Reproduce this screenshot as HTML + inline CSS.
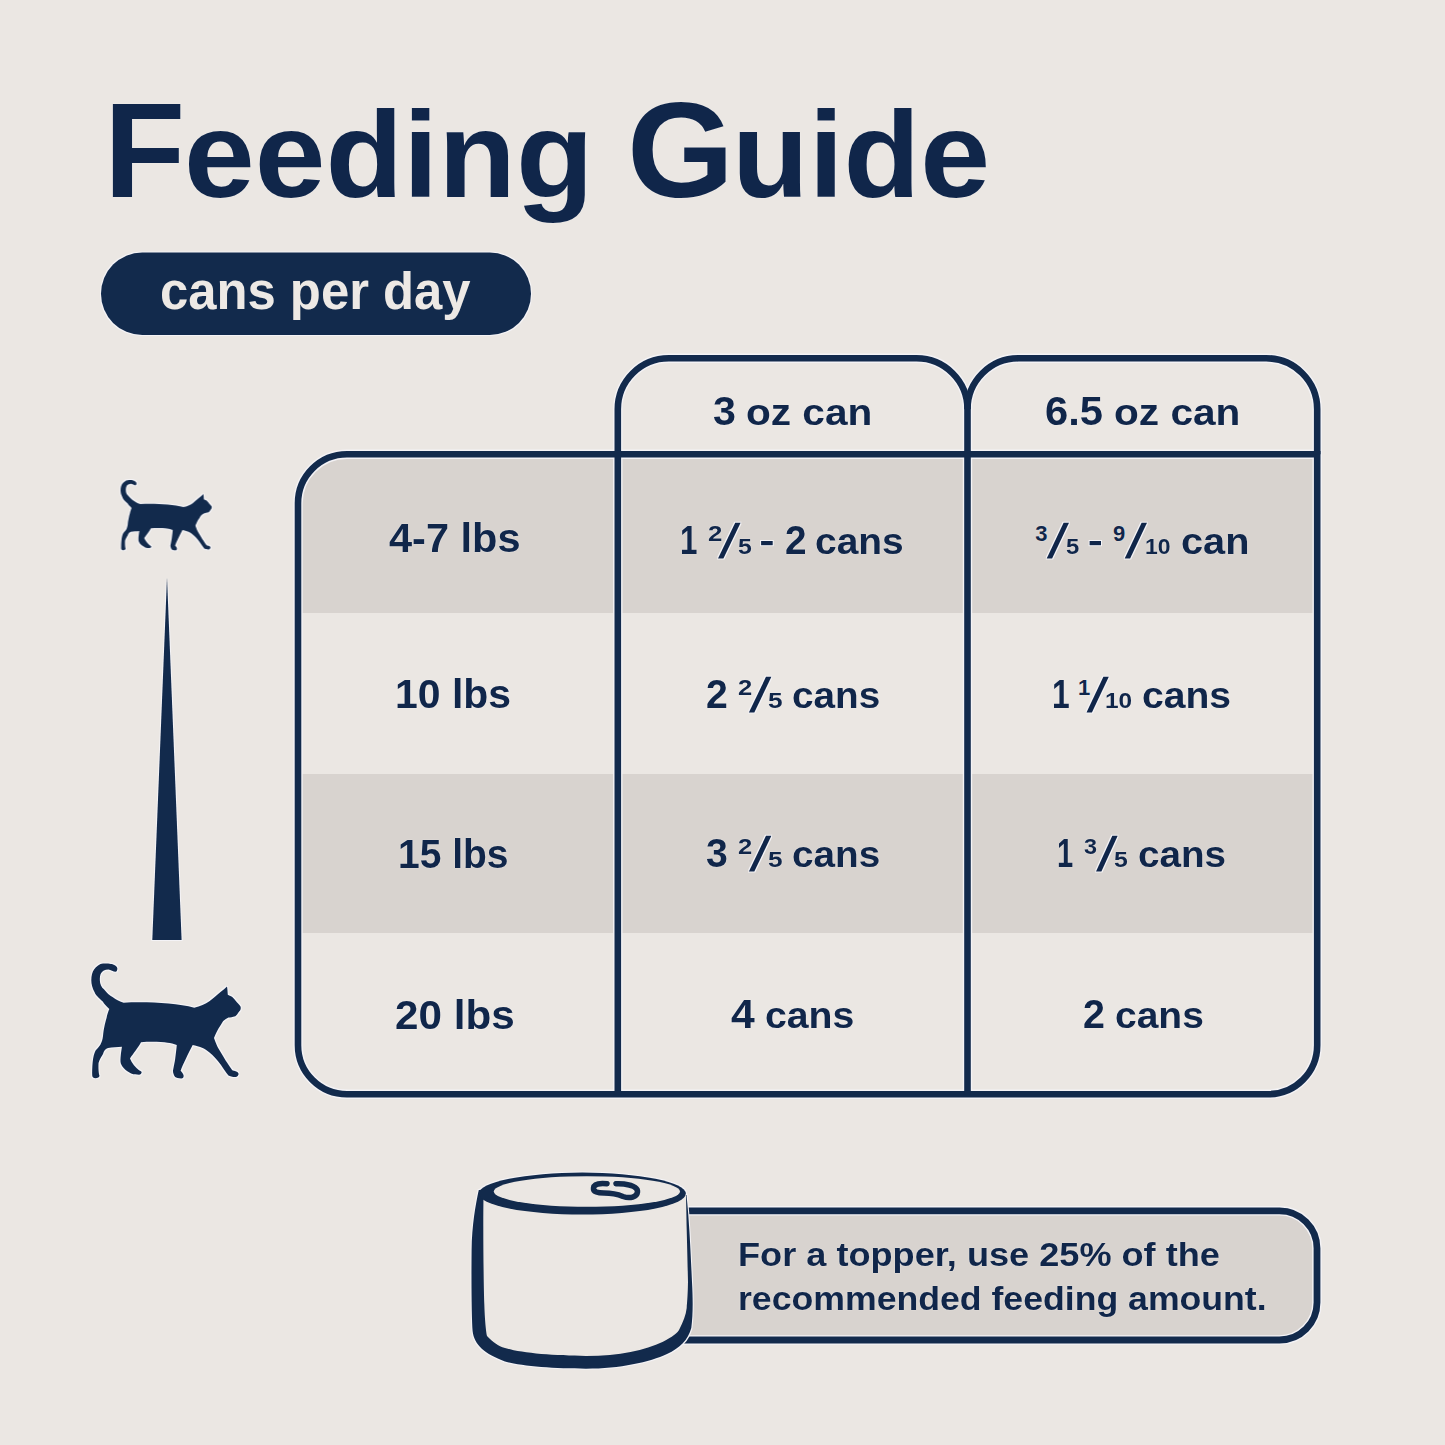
<!DOCTYPE html>
<html><head><meta charset="utf-8">
<style>
html,body{margin:0;padding:0;}
body{width:1445px;height:1445px;background:#EBE7E3;position:relative;overflow:hidden;font-family:"Liberation Sans",sans-serif;font-weight:bold;color:#10264A;}
svg.bg{position:absolute;left:0;top:0;}
.t{position:absolute;white-space:pre;line-height:normal;transform-origin:0 0;text-shadow:0 0 1.2px rgba(248,247,250,0.9);}
</style></head>
<body>
<svg class="bg" width="1445" height="1445" viewBox="0 0 1445 1445">
<!-- table row backgrounds -->
<path d="M298,503 A49,49 0 0 1 347,454.3 L1317.2,454.3 L1317.2,613 L298,613 Z" fill="#D8D3CF"/>
<rect x="298" y="774" width="1019.2" height="159" fill="#D8D3CF"/>
<!-- table outline -->
<defs><filter id="halo" color-interpolation-filters="sRGB" x="-5%" y="-5%" width="110%" height="110%"><feMorphology in="SourceAlpha" operator="dilate" radius="1.4" result="d"/><feFlood flood-color="#F4F3F6"/><feComposite in2="d" operator="in" result="h"/><feMerge><feMergeNode in="h"/><feMergeNode in="SourceGraphic"/></feMerge></filter><g id="tbl" fill="none">
  <path d="M298,503.3 A49,49 0 0 1 347,454.3 L1317.2,454.3 L1317.2,1045.2 A49,49 0 0 1 1268.2,1094.2 L347,1094.2 A49,49 0 0 1 298,1045.2 Z"/>
  <path d="M617.8,1094.2 L617.8,409.3 A51,51 0 0 1 668.8,358.3 L916.5,358.3 A51,51 0 0 1 967.5,409.3 L967.5,1094.2"/>
  <path d="M967.5,409.3 A51,51 0 0 1 1018.5,358.3 L1266.2,358.3 A51,51 0 0 1 1317.2,409.3 L1317.2,454.3"/>
</g></defs>
<use href="#tbl" stroke="#F4F3F6" stroke-width="9.4"/>
<use href="#tbl" stroke="#122A4C" stroke-width="6.6"/>
<!-- wedge -->
<path d="M167,577.4 L181.6,940 L152.3,940 Z" fill="#122A4C" filter="url(#halo)"/>
<!-- pill -->
<rect x="101" y="252.5" width="430" height="82.5" rx="41.25" fill="#122A4C" filter="url(#halo)"/>
<!-- topper box -->
<path d="M640,1210.8 L1279.5,1210.8 A37.5,37.5 0 0 1 1317,1248.3 L1317,1302.5 A37.5,37.5 0 0 1 1279.5,1340 L640,1340 Z" fill="#D8D3CF"/>
<path d="M640,1210.8 L1279.5,1210.8 A37.5,37.5 0 0 1 1317,1248.3 L1317,1302.5 A37.5,37.5 0 0 1 1279.5,1340 L640,1340 Z" fill="none" stroke="#F4F3F6" stroke-width="9.6"/>
<path d="M640,1210.8 L1279.5,1210.8 A37.5,37.5 0 0 1 1317,1248.3 L1317,1302.5 A37.5,37.5 0 0 1 1279.5,1340 L640,1340 Z" fill="none" stroke="#122A4C" stroke-width="6.8"/>
<g filter="url(#halo)">
<!-- can body -->
<path d="M478.8,1190 C475.5,1205 472,1225 471.6,1250 C471.2,1290 471.8,1320 472.6,1331 C474,1345 485,1354 505,1361.5 C520,1366 555,1368.7 586,1368.7 C620,1368.7 650,1362 667,1354 C680,1348 688,1340 691.3,1328 C693,1315 693,1300 692,1282 C691,1260 690,1240 689.3,1229.5 C688.5,1215 687.5,1205 686.5,1195 Z" fill="#122A4C"/>
<path d="M483.5,1195 C483,1230 483.5,1280 484.3,1304 C484.8,1320 486,1332 487,1336 C493,1342 498,1346 505,1348 C520,1353 555,1356 586,1356 C620,1356 645,1350 663,1341.7 C672,1337 678,1333 679.5,1329 C683,1322 686,1315 686.7,1308 C688,1295 688,1282 688,1282 C687.5,1260 687,1240 686.7,1229.5 C686.5,1215 686.2,1205 686,1195 Z" fill="#EBE7E3"/>
<ellipse cx="582.3" cy="1193.6" rx="103.5" ry="21" fill="#122A4C"/>
<ellipse cx="586.9" cy="1191.5" rx="93.1" ry="15.3" fill="#EBE7E3"/>
<!-- pull tab -->
<path d="M607,1183.8 C600,1183 594,1184 593.5,1188 C593,1192 598,1193 604,1193 C612,1193 617,1194 623,1196.5 C630,1199 637,1197 637.5,1192 C638,1187 631,1185 624,1184 C620,1183.6 618,1183.6 616,1183.8" fill="none" stroke="#122A4C" stroke-width="5.5" stroke-linecap="round"/>
</g>
<!-- cats -->
<g fill="#122A4C" filter="url(#halo)">
<g id="cat" transform="translate(70,950) scale(0.1315)">
<path d="M408,401 C560,392 800,400 945,439 C990,430 1030,410 1060,390 C1120,340 1170,300 1194,277 C1198,300 1199,325 1200,341 C1215,348 1228,352 1234,358 C1250,375 1262,390 1269,398 C1285,415 1295,425 1298,433 C1300,450 1295,460 1286,468 C1275,485 1265,498 1257,503 C1235,510 1220,512 1205,514 C1180,525 1165,540 1159,549 C1140,580 1130,595 1124,607 C1110,635 1100,655 1095,670 C1105,700 1120,735 1130,751 C1160,800 1180,835 1194,856 C1210,880 1222,900 1234,914 C1250,920 1262,922 1269,925 C1282,932 1285,945 1280,948 C1275,962 1265,966 1257,966 C1235,965 1215,960 1205,954 C1185,930 1165,900 1147,873 C1120,835 1090,805 1061,780 C1040,765 1025,752 1009,746 C985,735 955,727 933,723 C915,760 895,795 881,827 C865,860 850,890 841,919 C850,930 862,942 864,954 C866,968 858,977 846,977 C825,977 808,972 800,966 C790,955 783,935 783,919 C790,880 797,850 800,827 C805,790 810,750 812,723 C790,713 765,707 742,705 C700,700 620,695 540,702 C520,740 480,790 456,825 C470,860 500,895 525,914 C535,920 545,925 545,928 C545,940 535,948 525,948 C505,948 485,946 470,941 C440,928 398,900 386,862 C380,830 390,770 395,736 C360,740 320,740 290,745 C260,755 255,780 251,791 C235,815 222,840 217,859 C215,900 218,940 224,955 C225,968 210,976 193,976 C180,976 170,968 169,955 C168,900 172,850 176,825 C182,790 190,775 196,763 C215,740 225,730 230,722 C242,700 248,680 251,654 C254,620 258,600 261,586 C266,560 272,535 278,517 C283,490 292,465 299,449 C270,420 255,405 251,394 C215,360 192,340 189,325 C170,290 162,260 162,230 C162,195 170,165 183,148 C200,125 225,105 251,103 C285,100 305,103 319,107 C345,115 360,128 360,141 C360,155 355,165 347,165 C330,165 310,150 292,148 C265,148 245,160 237,175 C228,190 227,210 227,230 C227,260 240,285 258,298 C280,325 300,345 326,360 C350,378 380,393 408,401 Z"/>
</g>
<use href="#cat" transform="translate(64.87,-107.6) scale(0.61)"/>
</g>

<g fill="#10264A" filter="url(#halo)">
<rect x="761.1" y="541" width="11.6" height="4.2"/>
<rect x="1089.6" y="541" width="11.4" height="4.2"/>
<path d="M718.0,558.5 L723.4,558.5 L740.6,522.8 L735.2,522.8 Z"/>
<path d="M1046.7,558.5 L1052.1,558.5 L1069.0,522.8 L1063.6,522.8 Z"/>
<path d="M1124.7,558.5 L1130.1,558.5 L1147.0,522.8 L1141.6,522.8 Z"/>
<path d="M748.9,712.5 L754.3,712.5 L771.4,676.8 L766.0,676.8 Z"/>
<path d="M1086.5,712.5 L1091.9,712.5 L1108.8,676.8 L1103.4,676.8 Z"/>
<path d="M748.9,871.5 L754.3,871.5 L771.4,835.8 L766.0,835.8 Z"/>
<path d="M1096.0,871.5 L1101.4,871.5 L1117.7,835.8 L1112.3,835.8 Z"/>
</g>
</svg>
<div class="t" style="left:104.24px;top:72.88px;font-size:135px;transform:scaleX(0.9841);">F</div>
<div class="t" style="left:183.75px;top:76.31px;font-size:131px;transform:scale(0.9703,0.930);transform-origin:0 118.59px;">eeding</div>
<div class="t" style="left:627.08px;top:72.78px;font-size:135px;transform:scaleX(1.0198);">G</div>
<div class="t" style="left:732.13px;top:76.41px;font-size:131px;transform:scale(0.9588,0.930);transform-origin:0 118.59px;">uide</div>
<div class="t" style="left:160.31px;top:262.33px;font-size:51px;transform:scaleX(0.9958);color:#EDE9E5;text-shadow:none;">cans per day</div>
<div class="t" style="left:712.79px;top:387.88px;font-size:41px;transform:scaleX(1.0050);">3</div>
<div class="t" style="left:745.77px;top:388.79px;font-size:40px;transform:scale(1.0142,0.920);transform-origin:0 36.21px;">oz can</div>
<div class="t" style="left:1044.67px;top:387.88px;font-size:41px;transform:scaleX(1.0167);">6.5</div>
<div class="t" style="left:1113.97px;top:388.79px;font-size:40px;transform:scale(1.0150,0.920);transform-origin:0 36.21px;">oz can</div>
<div class="t" style="left:388.86px;top:516.29px;font-size:40px;transform:scaleX(1.0379);">4-7 lbs</div>
<div class="t" style="left:680.15px;top:517.79px;font-size:40px;transform:scaleX(0.7833);">1</div>
<div class="t" style="left:707.83px;top:521.48px;font-size:22px;transform:scaleX(1.1700);">2</div>
<div class="t" style="left:737.87px;top:534.08px;font-size:22px;transform:scaleX(1.1273);">5</div>
<div class="t" style="left:785.03px;top:517.79px;font-size:40px;transform:scaleX(0.9700);">2</div>
<div class="t" style="left:815.05px;top:517.79px;font-size:40px;transform:scale(0.9727,0.910);transform-origin:0 36.21px;">cans</div>
<div class="t" style="left:1035.35px;top:521.48px;font-size:22px;transform:scaleX(1.0000);">3</div>
<div class="t" style="left:1066.32px;top:534.08px;font-size:22px;transform:scaleX(1.0818);">5</div>
<div class="t" style="left:1113.00px;top:521.48px;font-size:22px;transform:scaleX(1.0000);">9</div>
<div class="t" style="left:1144.96px;top:534.08px;font-size:22px;transform:scaleX(1.0435);">10</div>
<div class="t" style="left:1180.82px;top:517.79px;font-size:40px;transform:scale(0.9923,0.910);transform-origin:0 36.21px;">can</div>
<div class="t" style="left:394.93px;top:672.29px;font-size:40px;transform:scaleX(1.0229);">10 lbs</div>
<div class="t" style="left:706.42px;top:671.79px;font-size:40px;transform:scaleX(0.9800);">2</div>
<div class="t" style="left:738.24px;top:675.48px;font-size:22px;transform:scaleX(1.1600);">2</div>
<div class="t" style="left:768.01px;top:688.08px;font-size:22px;transform:scaleX(1.1909);">5</div>
<div class="t" style="left:791.97px;top:671.79px;font-size:40px;transform:scale(0.9670,0.910);transform-origin:0 36.21px;">cans</div>
<div class="t" style="left:1051.52px;top:671.79px;font-size:40px;transform:scaleX(0.7944);">1</div>
<div class="t" style="left:1078.00px;top:675.48px;font-size:22px;transform:scaleX(1.0000);">1</div>
<div class="t" style="left:1105.29px;top:688.08px;font-size:22px;transform:scaleX(1.1087);">10</div>
<div class="t" style="left:1141.85px;top:671.79px;font-size:40px;transform:scale(0.9761,0.910);transform-origin:0 36.21px;">cans</div>
<div class="t" style="left:397.88px;top:831.79px;font-size:40px;transform:scaleX(0.9743);">15 lbs</div>
<div class="t" style="left:706.42px;top:830.79px;font-size:40px;transform:scaleX(0.9800);">3</div>
<div class="t" style="left:738.24px;top:834.48px;font-size:22px;transform:scaleX(1.1600);">2</div>
<div class="t" style="left:768.01px;top:847.08px;font-size:22px;transform:scaleX(1.1909);">5</div>
<div class="t" style="left:791.97px;top:830.79px;font-size:40px;transform:scale(0.9670,0.910);transform-origin:0 36.21px;">cans</div>
<div class="t" style="left:1056.72px;top:830.79px;font-size:40px;transform:scaleX(0.7278);">1</div>
<div class="t" style="left:1083.94px;top:834.48px;font-size:22px;transform:scaleX(1.0636);">3</div>
<div class="t" style="left:1114.47px;top:847.08px;font-size:22px;transform:scaleX(1.1273);">5</div>
<div class="t" style="left:1138.37px;top:830.79px;font-size:40px;transform:scale(0.9659,0.910);transform-origin:0 36.21px;">cans</div>
<div class="t" style="left:394.75px;top:992.79px;font-size:40px;transform:scaleX(1.0550);">20 lbs</div>
<div class="t" style="left:730.83px;top:992.29px;font-size:40px;transform:scaleX(1.0667);">4</div>
<div class="t" style="left:765.24px;top:992.29px;font-size:40px;transform:scale(0.9795,0.910);transform-origin:0 36.21px;">cans</div>
<div class="t" style="left:1082.52px;top:992.49px;font-size:40px;transform:scaleX(0.9850);">2</div>
<div class="t" style="left:1114.75px;top:992.49px;font-size:40px;transform:scale(0.9739,0.910);transform-origin:0 36.21px;">cans</div>
<div class="t" style="left:738.11px;top:1236.13px;font-size:33px;transform:scaleX(1.0950);">For a topper, use 25% of the</div>
<div class="t" style="left:738.14px;top:1279.53px;font-size:33px;transform:scaleX(1.0798);">recommended feeding amount.</div>
</body></html>
